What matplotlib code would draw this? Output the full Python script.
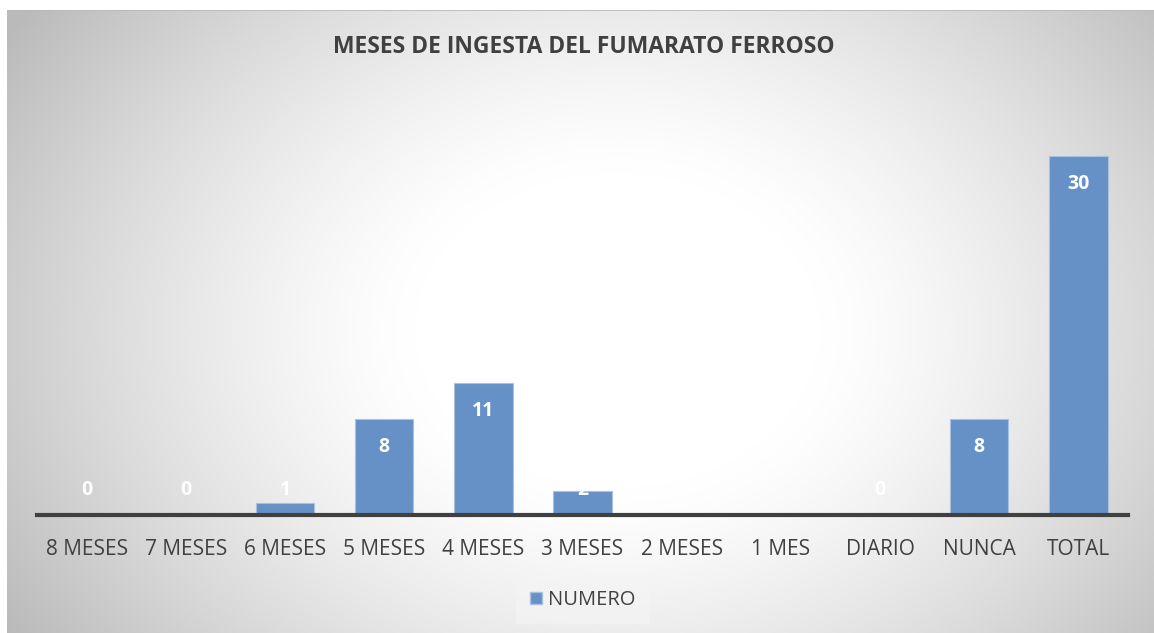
import numpy as np
import matplotlib
matplotlib.use("Agg")
import matplotlib.pyplot as plt

categories = ["8 MESES", "7 MESES", "6 MESES", "5 MESES", "4 MESES", "3 MESES",
              "2 MESES", "1 MES", "DIARIO", "NUNCA", "TOTAL"]
values = [0, 0, 1, 8, 11, 2, np.nan, np.nan, 0, 8, 30]
series_name = "NUMERO"
title = "MESES DE INGESTA DEL FUMARATO FERROSO"

W, H = 1154, 633
fig = plt.figure(figsize=(W / 100, H / 100), dpi=100)
fig.patch.set_facecolor("white")

# radial gradient background
bg = fig.add_axes([7 / W, 0, (W - 7) / W, (H - 10) / H])
bg.set_axis_off()
yy, xx = np.mgrid[0:623, 0:1147]
cx, cy = 610, 320
r = np.sqrt(((xx - cx) / 720.0) ** 2 + ((yy - cy) / 560.0) ** 2)
val = 1.0 - 0.27 * np.clip((r - 0.28) / 0.72, 0, 1) ** 1.3
img = np.dstack([val, val, val])
bg.imshow(img, aspect="auto", extent=[0, 1, 0, 1], origin="upper")
bg.set_xlim(0, 1)
bg.set_ylim(0, 1)
bg.plot([0, 1], [1, 1], color="#b8b8b8", lw=1.2, transform=bg.transAxes)

font = "Open Sans"
blue = "#6691c6"

# plot axes: baseline at y=515 px, x 37..1128
ax_bottom = (H - 515) / H
top_px = 515 - 35 * 11.97
ax_height = (515 - top_px) / H
ax = fig.add_axes([37 / W, ax_bottom, (1128 - 37) / W, ax_height])
ax.patch.set_alpha(0)
x = np.arange(len(categories))
vals = np.array(values, dtype=float)
ax.bar(x, np.nan_to_num(vals), width=0.59, color=blue, edgecolor="#a9c0df", linewidth=0.8, zorder=2)
ax.set_xlim(-0.5, len(categories) - 0.5)
ax.set_ylim(0, 35)
for s in ["top", "right", "left"]:
    ax.spines[s].set_visible(False)
ax.spines["bottom"].set_color("#404040")
ax.spines["bottom"].set_linewidth(3)
ax.set_yticks([])
ax.set_xticks(x)
ax.set_xticklabels(categories, fontfamily=font, fontsize=15, color="#404040")
ax.tick_params(axis="x", length=0, pad=17)

for xi, v in zip(x, vals):
    if np.isnan(v):
        continue
    ly = max(v - 2.34, 2.09)
    ax.text(xi, ly, f"{int(v)}", ha="center", va="center", color="white",
            fontfamily=font, fontsize=14, fontweight="bold", zorder=3)

fig.text(584 / W, 1 - 47 / H, title, ha="center", va="center", fontfamily=font,
         fontsize=16.5, fontweight="bold", color="#404040")

# legend
from matplotlib.patches import Patch
leg = fig.legend(handles=[Patch(facecolor=blue, edgecolor="#a9c0df", label=series_name)],
                 loc="center", bbox_to_anchor=(583 / W, 1 - 600 / H), frameon=True,
                 prop={"family": font, "size": 14.5}, handlelength=0.6, handleheight=0.6,
                 handletextpad=0.3, borderpad=0.7)
leg.get_frame().set_facecolor("#f4f4f4")
leg.get_frame().set_edgecolor("none")
leg.get_frame().set_alpha(0.7)
leg.get_frame().set_boxstyle("square", pad=0)
for t in leg.get_texts():
    t.set_color("#404040")

fig.savefig("out.png", dpi=100)
